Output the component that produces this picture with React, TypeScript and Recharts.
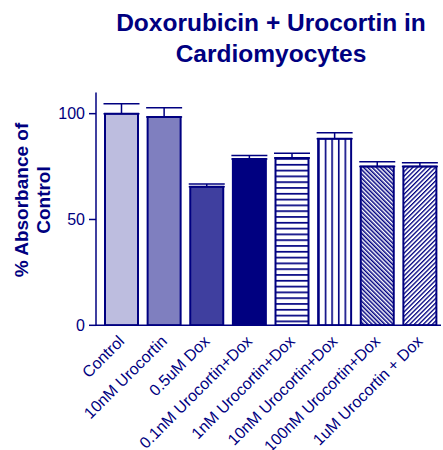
import React from "react";
import { BarChart, Bar, XAxis, YAxis, ErrorBar, Cell, Label } from "recharts";

const categories = [
  "Control",
  "10nM Urocortin",
  "0.5uM Dox",
  "0.1nM Urocortin+Dox",
  "1nM Urocortin+Dox",
  "10nM Urocortin+Dox",
  "100nM Urocortin+Dox",
  "1uM Urocortin + Dox",
];
const values = [100, 98.4, 65.5, 78.6, 79.0, 88.2, 75.0, 75.0];
const errors = [4.7, 4.4, 1.3, 1.6, 2.3, 2.8, 2.3, 1.8];
const fills = [
  "#BDBDDF",
  "#7F7FBF",
  "#3F3F9F",
  "#000080",
  "url(#hstripe)",
  "url(#vstripe)",
  "url(#bslash)",
  "url(#fslash)",
];
const yTicks = [0, 50, 100];

const NAVY = "#000080";
const FONT = "'Liberation Sans', Arial, Helvetica, sans-serif";

const data = categories.map((name, i) => ({
  name,
  value: values[i],
  err: [0, errors[i]],
}));

const XTick = (props: any) => {
  const { x, y, payload } = props;
  const tx = x + 4;
  const ty = y + 17;
  return (
    <text
      x={tx}
      y={ty}
      textAnchor="end"
      fill={NAVY}
      fontSize={16}
      fontFamily={FONT}
      transform={`rotate(-45, ${tx}, ${ty})`}
    >
      {payload.value}
    </text>
  );
};

const YLabel = () => (
  <g fontFamily={FONT} fontWeight="bold" fontSize={19} fill={NAVY}>
    <text x={27.5} y={200} textAnchor="middle" transform="rotate(-90, 27.5, 200)">
      % Absorbance of
    </text>
    <text x={50} y={200} textAnchor="middle" transform="rotate(-90, 50, 200)">
      Control
    </text>
  </g>
);

export default function App() {
  return (
    <div style={{ position: "absolute", left: 0, top: 0, width: 443, height: 450 }}>
      <div
        style={{
          position: "absolute",
          left: 100,
          width: 342,
          top: 7,
          textAlign: "center",
          fontFamily: FONT,
          fontWeight: "bold",
          fontSize: 24.5,
          lineHeight: "31px",
          color: NAVY,
        }}
      >
        Doxorubicin + Urocortin in
        <br />
        Cardiomyocytes
      </div>
      <BarChart
        width={443}
        height={450}
        data={data}
        margin={{ top: 92.5, right: 2, left: 0, bottom: 0 }}
        barCategoryGap={0}
      >
        <defs>
          <pattern id="hstripe" patternUnits="userSpaceOnUse" width={10} height={5.8} y={1.5}>
            <rect x={0} y={0} width={10} height={5.8} fill="#fff" />
            <rect x={0} y={0} width={10} height={1.7} fill={NAVY} />
          </pattern>
          <pattern id="vstripe" patternUnits="objectBoundingBox" width={0.2} height={1}>
            <rect x={0} y={0} width={10} height={400} fill="#fff" />
            <rect x={0} y={0} width={1.6} height={400} fill={NAVY} />
          </pattern>
          <pattern
            id="bslash"
            patternUnits="userSpaceOnUse"
            width={3}
            height={10}
            patternTransform="rotate(-45)"
          >
            <rect x={0} y={0} width={3} height={10} fill="#fff" />
            <rect x={0} y={0} width={1.5} height={10} fill={NAVY} />
          </pattern>
          <pattern
            id="fslash"
            patternUnits="userSpaceOnUse"
            width={3.2}
            height={10}
            patternTransform="rotate(45)"
          >
            <rect x={0} y={0} width={3.2} height={10} fill="#fff" />
            <rect x={0} y={0} width={1.3} height={10} fill={NAVY} />
          </pattern>
        </defs>
        <XAxis
          dataKey="name"
          interval={0}
          height={124.7}
          padding={{ left: 4, right: 0 }}
          axisLine={{ stroke: NAVY, strokeWidth: 1.5 }}
          tickLine={false}
          tickSize={0}
          tickMargin={0}
          tick={<XTick />}
        />
        <YAxis
          width={96}
          domain={[0, 110]}
          ticks={yTicks}
          interval={0}
          axisLine={{ stroke: NAVY, strokeWidth: 1.5 }}
          tickLine={{ stroke: NAVY, strokeWidth: 1.5 }}
          tickSize={7}
          tickMargin={4}
          tick={{ fill: NAVY, fontSize: 16, fontFamily: FONT }}
          allowDataOverflow
        >
          <Label content={<YLabel />} />
        </YAxis>
        <Bar
          dataKey="value"
          barSize={33}
          stroke={NAVY}
          strokeWidth={2}
          isAnimationActive={false}
        >
          {data.map((d, i) => (
            <Cell key={d.name} fill={fills[i]} />
          ))}
          <ErrorBar
            dataKey="err"
            width={18}
            stroke={NAVY}
            strokeWidth={1.5}
            direction="y"
            isAnimationActive={false}
          />
        </Bar>
      </BarChart>
    </div>
  );
}
